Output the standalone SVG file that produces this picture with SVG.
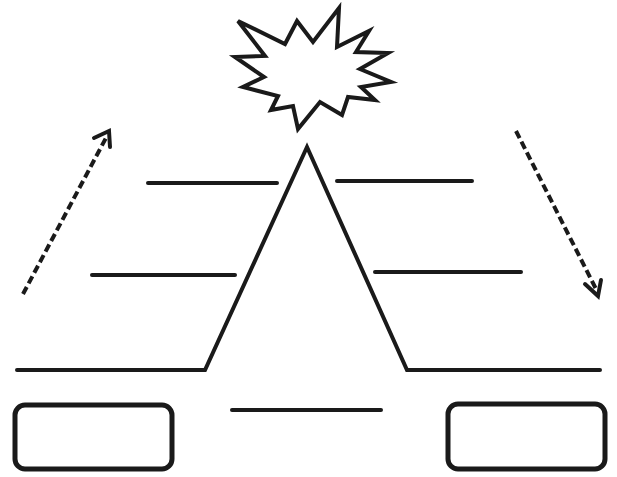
<svg xmlns="http://www.w3.org/2000/svg" width="617" height="477" viewBox="0 0 617 477">
<style>
.ln{fill:none;stroke:#1a1a1a;stroke-width:4;stroke-linecap:round;stroke-linejoin:miter}
.bx{fill:#fff;stroke:#1a1a1a;stroke-width:5}
.dash{fill:none;stroke:#1a1a1a;stroke-width:4;stroke-dasharray:8 4}
.head{fill:none;stroke:#1a1a1a;stroke-width:4;stroke-linecap:round;stroke-linejoin:miter}
</style>
<rect width="617" height="477" fill="#fff"/>
<g id="star">
<path class="ln" stroke-width="5" d="M238,21 L285,44 L297,21 L313,42 L339,8 L337,47 L369,31 L356,52 L388,53 L360,69 L391,82 L361,87 L375,100 L348,97 L342,115 L320,102 L298,129 L293,106 L271,110 L278,96 L243,87 L264,77 L235,57 L265,56 Z"/>
</g>
<g id="mountain">
<path class="ln" d="M17,370 L205,370 L307,147 L407,370 L600,370"/>
</g>
<g id="line-top-left"><line class="ln" x1="148" y1="183" x2="277" y2="183"/></g>
<g id="line-top-right"><line class="ln" x1="337" y1="181" x2="472" y2="181"/></g>
<g id="line-mid-left"><line class="ln" x1="92" y1="275" x2="235" y2="275"/></g>
<g id="line-mid-right"><line class="ln" x1="375" y1="272" x2="521" y2="272"/></g>
<g id="line-bottom"><line class="ln" x1="232" y1="410" x2="381" y2="410"/></g>
<g id="box-left"><rect class="bx" x="15" y="405" width="157" height="64" rx="10"/></g>
<g id="box-right"><rect class="bx" x="448" y="404" width="157" height="65" rx="10"/></g>
<g id="connectors">
<line class="dash" x1="23" y1="294" x2="107" y2="136"/>
<path class="head" d="M94,138 L109,131 L110,147"/>
<line class="dash" x1="516" y1="131" x2="597" y2="291"/>
<path class="head" d="M585,284 L598,296 L601,280"/>
</g>
</svg>
